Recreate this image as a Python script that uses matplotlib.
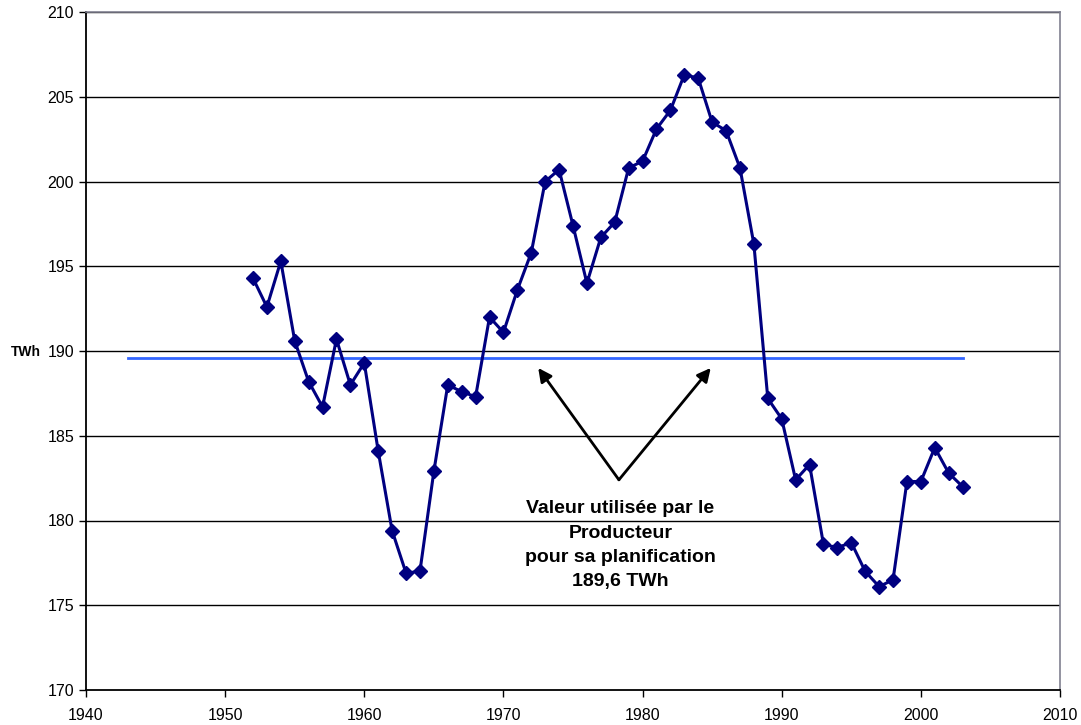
import matplotlib
matplotlib.use("Agg")
import matplotlib.pyplot as plt

plt.rcParams['font.family'] = ['Liberation Sans', 'DejaVu Sans']

# annual values
years = list(range(1952, 2004))
twh = [194.3, 192.6, 195.3, 190.6, 188.2, 186.7, 190.7, 188.0, 189.3, 184.1,
       179.4, 176.9, 177.0, 182.9, 188.0, 187.6, 187.3, 192.0, 191.1, 193.6,
       195.8, 200.0, 200.7, 197.4, 194.0, 196.7, 197.6, 200.8, 201.2, 203.1,
       204.2, 206.3, 206.1, 203.5, 203.0, 200.8, 196.3, 187.2, 186.0, 182.4,
       183.3, 178.6, 178.4, 178.7, 177.0, 176.1, 176.5, 182.3, 182.3, 184.3,
       182.8, 182.0]

plan_value = 189.6
plan_years = [1943, 2003]
note = "Valeur utilisée par le\nProducteur\npour sa planification\n189,6 TWh"

fig = plt.figure(figsize=(10.81, 7.25), dpi=100)
ax = fig.add_axes([86 / 1081, 35 / 725, (1060 - 86) / 1081, (690 - 12) / 725])

for v in range(175, 211, 5):
    ax.axhline(v, color='black', lw=1.0, zorder=1)

ax.plot(plan_years, [plan_value, plan_value], color='#3366ff', lw=2, zorder=2)
ax.plot(years, twh, color='#000080', lw=2.2, marker='D', ms=7.5,
        markerfacecolor='#000080', markeredgecolor='#000080', zorder=3)

base = (1978.3, 182.4)
for tip in [(1972.5, 189.0), (1984.9, 189.0)]:
    ax.annotate('', xy=tip, xytext=base,
                arrowprops=dict(arrowstyle='-|>', color='black', lw=2,
                                mutation_scale=20, shrinkA=0, shrinkB=0))
ax.text(1978.4, 178.55, note, ha='center', va='center', fontsize=14,
        fontweight='bold', linespacing=1.55)

ax.set_xlim(1940, 2010)
ax.set_ylim(170, 210)
ax.set_xticks(range(1940, 2011, 10))
ax.set_yticks(range(170, 211, 5))
ax.tick_params(axis='both', direction='out', length=5, width=1, labelsize=11.5,
               color='black')
ax.tick_params(axis='x', pad=8)
ax.spines['left'].set_linewidth(1.3)
ax.spines['bottom'].set_linewidth(1.3)
ax.spines['top'].set_color('#808090')
ax.spines['right'].set_color('#808090')
ax.spines['top'].set_linewidth(1.2)
ax.spines['right'].set_linewidth(1.2)

fig.text(26 / 1081, 1 - 352 / 725, 'TWh', ha='center', va='center',
         fontsize=10, fontweight='bold')

fig.savefig('out.png', dpi=100)
